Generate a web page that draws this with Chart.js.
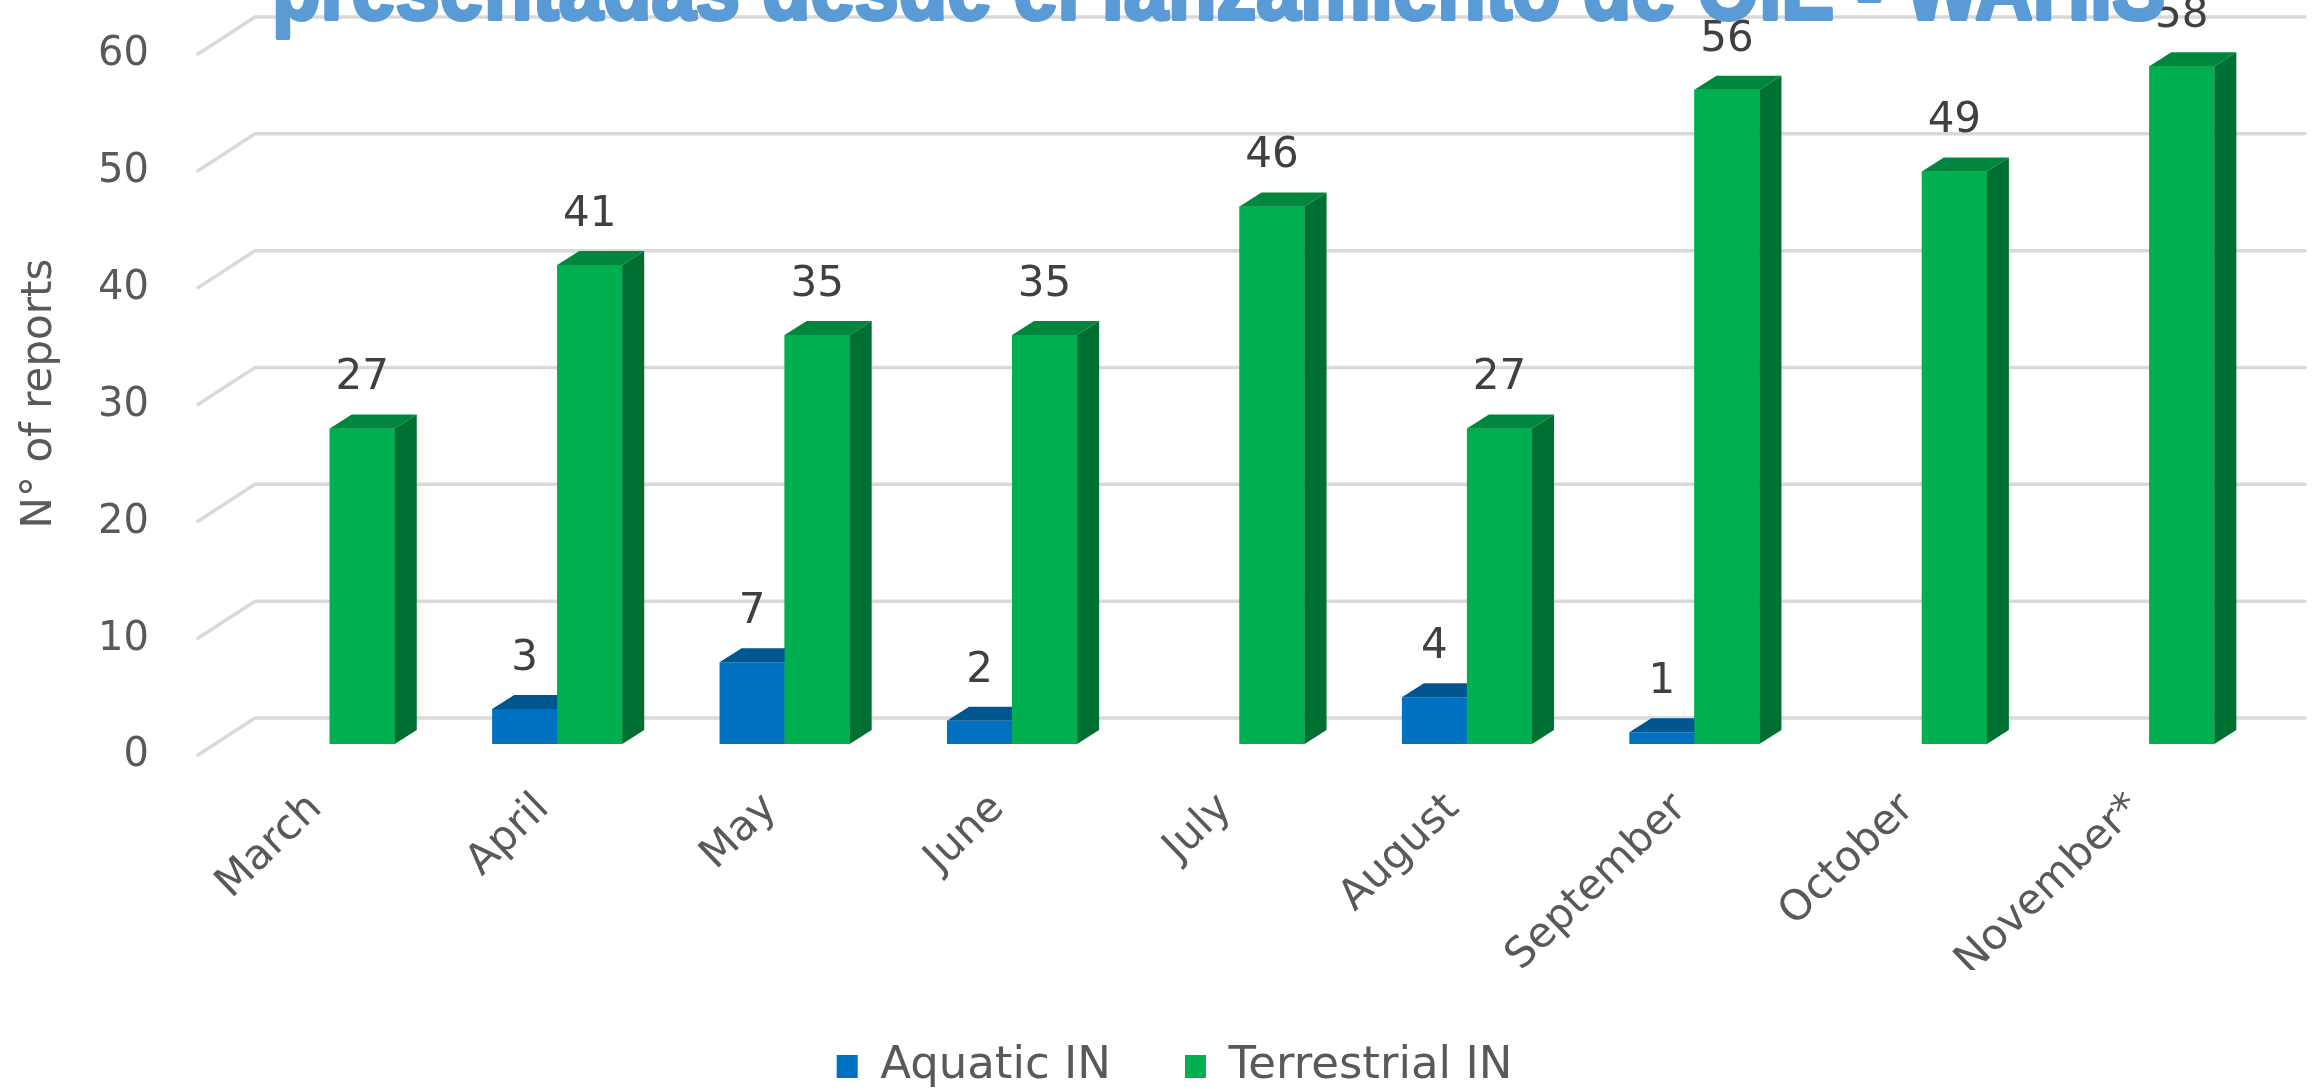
<!DOCTYPE html>
<html>
<head>
<meta charset="utf-8">
<script src="https://cdn.jsdelivr.net/npm/chart.js@4.4.1/dist/chart.umd.min.js"></script>
<style>
    html, body { margin: 0; padding: 0; background: #ffffff; }
    #contenedor { width: 2315px; height: 1089px; position: relative; }
</style>
</head>
<body>
<div id="contenedor"><canvas id="chartReportes"></canvas></div>
<script>
// Datos del gráfico
const meses = ['March', 'April', 'May', 'June', 'July', 'August', 'September', 'October', 'November*'];
const acuaticos = [null, 3, 7, 2, null, 4, 1, null, null];   // Aquatic IN
const terrestres = [27, 41, 35, 35, 46, 27, 56, 49, 58];       // Terrestrial IN
const ticksY = [0, 10, 20, 30, 40, 50, 60];
const tituloEje = 'N° of reports';
const tituloCortado = 'presentadas desde el lanzamiento de OIE - WAHIS';

// Colores (frente, tapa, lado)
const colAzul = { frente: '#0070C0', tapa: '#00578F', lado: '#004E80' };
const colVerde = { frente: '#00B050', tapa: '#00873D', lado: '#007032' };
const colores = [colAzul, colVerde];

// Profundidad del efecto 3D
const prof = { dx: 22, dy: -14 };

const canvas = document.getElementById('chartReportes');
const ctx = canvas.getContext('2d');

// Líneas de la cuadrícula con la pared lateral
const cuadricula3D = {
    id: 'cuadricula3D',
    beforeDatasetsDraw(chart) {
        const c = chart.ctx;
        const a = chart.chartArea;
        const ejeY = chart.scales.y;
        c.save();
        c.strokeStyle = '#D9D9D9';
        c.lineWidth = 3.5;
        c.lineCap = 'round';
        c.lineJoin = 'round';
        ejeY.ticks.forEach(t => {
            const py = ejeY.getPixelForValue(t.value);
            c.beginPath();
            c.moveTo(a.left - 18, py + 11);
            c.lineTo(a.left + 39, py - 26);
            c.lineTo(a.right + 42, py - 26);
            c.stroke();
        });
        c.restore();
    }
};

// Tapa y lado de una barra
const caras = (c, bar, col) => {
    const { x, y, base, width } = bar.getProps(['x', 'y', 'base', 'width'], true);
    const l = x - width / 2;
    const r = x + width / 2;
    c.fillStyle = col.tapa;
    c.beginPath();
    c.moveTo(l, y);
    c.lineTo(l + prof.dx, y + prof.dy);
    c.lineTo(r + prof.dx, y + prof.dy);
    c.lineTo(r, y);
    c.closePath();
    c.fill();
    c.fillStyle = col.lado;
    c.beginPath();
    c.moveTo(r, y);
    c.lineTo(r + prof.dx, y + prof.dy);
    c.lineTo(r + prof.dx, base + prof.dy);
    c.lineTo(r, base);
    c.closePath();
    c.fill();
};

// Efecto 3D: azul detrás, verde delante
const barras3D = {
    id: 'barras3D',
    afterDatasetsDraw(chart) {
        const c = chart.ctx;
        c.save();
        chart.data.labels.forEach((_, i) => {
            chart.data.datasets.forEach((ds, d) => {
                const v = ds.data[i];
                if (v === null || v === 0) return;
                const bar = chart.getDatasetMeta(d).data[i];
                if (d > 0) bar.draw(c);
                caras(c, bar, colores[d]);
            });
        });
        c.restore();
    }
};

// Etiquetas de valores sobre las barras
const etiquetas = {
    id: 'etiquetas',
    afterDatasetsDraw(chart) {
        const c = chart.ctx;
        c.save();
        c.font = '42px "DejaVu Sans", sans-serif';
        c.fillStyle = '#404040';
        c.textAlign = 'center';
        c.textBaseline = 'middle';
        chart.data.datasets.forEach((ds, d) => {
            chart.getDatasetMeta(d).data.forEach((bar, i) => {
                const v = ds.data[i];
                if (v === null || v === 0) return;
                c.fillText(String(v), bar.x, bar.y - 50);
            });
        });
        c.restore();
    }
};

// Mover la leyenda un poco a la derecha
const moverLeyenda = {
    id: 'moverLeyenda',
    afterLayout(chart) {
        chart.legend.left += 43;
        chart.legend.right += 43;
    }
};

// Título grande recortado arriba
const tituloArriba = {
    id: 'tituloArriba',
    afterDraw(chart) {
        const c = chart.ctx;
        c.save();
        c.font = 'bold 90px "Liberation Sans Narrow", "Liberation Sans", Arial, sans-serif';
        c.fillStyle = '#5B9BD5';
        c.strokeStyle = '#5B9BD5';
        c.lineWidth = 4;
        c.lineJoin = 'round';
        c.textBaseline = 'alphabetic';
        const w = c.measureText(tituloCortado).width;
        c.translate(272, 19);
        c.scale(1893 / w, 1);
        c.strokeText(tituloCortado, 0, 0);
        c.fillText(tituloCortado, 0, 0);
        c.restore();
    }
};

const chartReportes = new Chart(ctx, {
    type: 'bar',
    data: {
        labels: meses,
        datasets: [{
            label: 'Aquatic IN',
            data: acuaticos,
            backgroundColor: colAzul.frente,
            borderWidth: 0
        }, {
            label: 'Terrestrial IN',
            data: terrestres,
            backgroundColor: colVerde.frente,
            borderWidth: 0
        }]
    },
    options: {
        responsive: true,
        maintainAspectRatio: false,
        animation: false,
        datasets: {
            bar: { categoryPercentage: 0.572, barPercentage: 1.0 }
        },
        layout: { padding: { top: 43, right: 52, bottom: -10, left: 0 } },
        plugins: {
            tooltip: { enabled: false },
            legend: {
                position: 'bottom',
                labels: {
                    boxWidth: 21,
                    boxHeight: 23,
                    padding: 74,
                    color: '#595959',
                    font: { family: '"DejaVu Sans", sans-serif', size: 45 }
                }
            }
        },
        scales: {
            x: {
                grid: { display: false, drawTicks: false },
                border: { display: false },
                ticks: {
                    autoSkip: false,
                    minRotation: 44,
                    maxRotation: 44,
                    padding: 40,
                    labelOffset: -14,
                    color: '#595959',
                    font: { family: '"DejaVu Sans", sans-serif', size: 42 }
                },
                afterFit(scale) { scale.height = 226; }
            },
            y: {
                min: ticksY[0],
                max: ticksY[ticksY.length - 1],
                grid: { display: false, drawTicks: true, tickLength: 60 },
                border: { display: false },
                ticks: {
                    stepSize: ticksY[1] - ticksY[0],
                    padding: 7,
                    labelOffset: 12,
                    color: '#595959',
                    font: { family: '"DejaVu Sans", sans-serif', size: 40 }
                },
                title: {
                    display: true,
                    text: tituloEje,
                    color: '#595959',
                    padding: { top: 15, bottom: 0 },
                    font: { family: '"DejaVu Sans", sans-serif', size: 42, lineHeight: 1.2 }
                },
                afterFit(scale) { scale.width = 216; }
            }
        }
    },
    plugins: [cuadricula3D, barras3D, etiquetas, moverLeyenda, tituloArriba]
});
</script>
</body>
</html>
